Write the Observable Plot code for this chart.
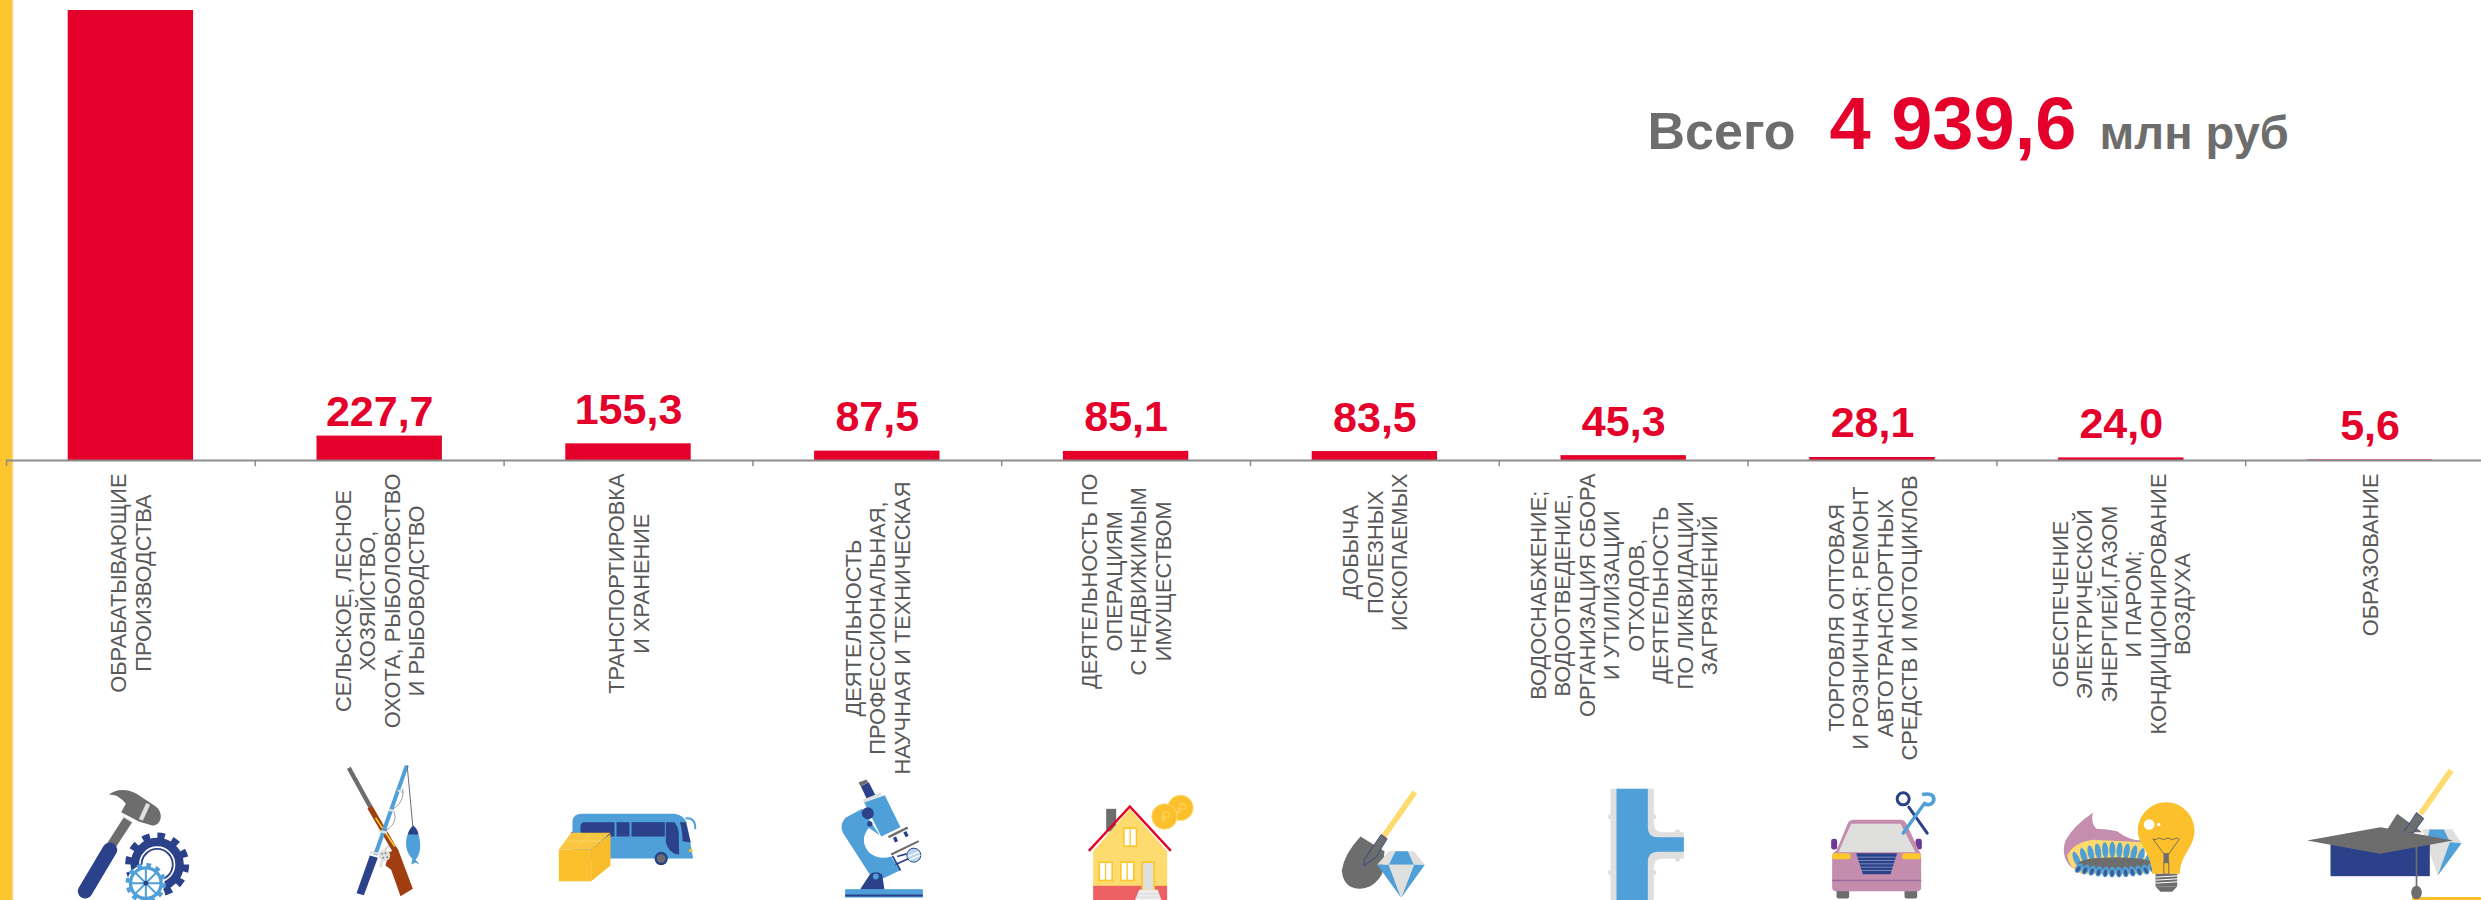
<!DOCTYPE html>
<html lang="ru">
<head>
<meta charset="utf-8">
<script src="https://cdn.jsdelivr.net/npm/d3@7"></script>
<script src="https://cdn.jsdelivr.net/npm/@observablehq/plot@0.6"></script>
<style>
html,body{margin:0;padding:0;background:#fff;overflow:hidden;width:2481px;height:900px}
#wrap{position:relative;width:2481px;height:900px;overflow:hidden}
#strip{position:absolute;left:0;top:0;width:14px;height:900px;background:linear-gradient(to right,#fdc62c 0,#fdc62c 11px,#f2d98a 12.5px,#fff 14px)}
#corner{position:absolute;left:2412px;top:897px;width:69px;height:3px;background:#fcc02c}
svg{display:block}
</style>
</head>
<body>
<div id="wrap"><div id="strip"></div><div id="corner"></div></div>
<script>
const categories = [
  "ОБРАБАТЫВАЮЩИЕ\nПРОИЗВОДСТВА",
  "СЕЛЬСКОЕ, ЛЕСНОЕ\nХОЗЯЙСТВО,\nОХОТА, РЫБОЛОВСТВО\nИ РЫБОВОДСТВО",
  "ТРАНСПОРТИРОВКА\nИ ХРАНЕНИЕ",
  "ДЕЯТЕЛЬНОСТЬ\nПРОФЕССИОНАЛЬНАЯ,\nНАУЧНАЯ И ТЕХНИЧЕСКАЯ",
  "ДЕЯТЕЛЬНОСТЬ ПО\nОПЕРАЦИЯМ\nС НЕДВИЖИМЫМ\nИМУЩЕСТВОМ",
  "ДОБЫЧА\nПОЛЕЗНЫХ\nИСКОПАЕМЫХ",
  "ВОДОСНАБЖЕНИЕ;\nВОДООТВЕДЕНИЕ,\nОРГАНИЗАЦИЯ СБОРА\nИ УТИЛИЗАЦИИ\nОТХОДОВ,\nДЕЯТЕЛЬНОСТЬ\nПО ЛИКВИДАЦИИ\nЗАГРЯЗНЕНИЙ",
  "ТОРГОВЛЯ ОПТОВАЯ\nИ РОЗНИЧНАЯ; РЕМОНТ\nАВТОТРАНСПОРТНЫХ\nСРЕДСТВ И МОТОЦИКЛОВ",
  "ОБЕСПЕЧЕНИЕ\nЭЛЕКТРИЧЕСКОЙ\nЭНЕРГИЕЙ,ГАЗОМ\nИ ПАРОМ;\nКОНДИЦИОНИРОВАНИЕ\nВОЗДУХА",
  "ОБРАЗОВАНИЕ"
];
const values = [4197.4, 227.7, 155.3, 87.5, 85.1, 83.5, 45.3, 28.1, 24.0, 5.6];
const totalValue = "4 939,6";
const totalPrefix = "Всего";
const totalUnit = "млн руб";

const FONT = "'Liberation Sans', Arial, sans-serif";
const RED = "#e4002b", GRAY = "#6d6d6d", LABEL = "#595959", AXIS = "#8c8c8c";
const NAVY = "#2b4189", BLUE = "#4f9fd8", YEL = "#fcc02c", PALE = "#fedb6e", LIGHT = "#dfdfdd";
const X0 = 6, STEP = 248.8, LABEL_SIZE = 21.8;

const rows = categories.map((name, i) => ({name, value: values[i], label: values[i].toFixed(1).replace(".", ",")}));

/* icons: drawn at 3x in their own tiles, one per band */
const gear = (cx, cy, r, sw, col) => {
  const circ = 2 * Math.PI * r, n = r > 50 ? 12 : 14;
  return `<circle cx="${cx}" cy="${cy}" r="${r}" fill="none" stroke="${col}" stroke-width="${sw}" stroke-dasharray="${circ / n / 2} ${circ / n / 2}"/>`;
};
const flames = () => {
  let s = "";
  d3.range(11).forEach(k => {
    const x = 48 + k * 21.5, a = (k - 5) / 5, y = 268 + a * a * 28;
    s += `<ellipse cx="${x}" cy="${y}" rx="9" ry="24" transform="rotate(${a * 22} ${x} ${y})" fill="${BLUE}"/>`;
  });
  s += `<ellipse cx="165" cy="310" rx="113" ry="20" fill="${GRAY}"/>`;
  d3.range(12).forEach(k => {
    const x = 55 + k * 20, a = (k - 5.5) / 5.5, y = 335 - a * a * 12;
    s += `<ellipse cx="${x}" cy="${y}" rx="10" ry="16" transform="rotate(${-a * 35} ${x} ${y})" fill="${BLUE}"/>`;
    s += `<ellipse cx="${x}" cy="${y + 3}" rx="5" ry="10" transform="rotate(${-a * 35} ${x} ${y})" fill="#3d5a95"/>`;
  });
  return s;
};
const iconBodies = [
  {left: 60, top: 760, body: `
    <polygon points="190,170 215,185 165,262 140,248" fill="${GRAY}"/>
    <line x1="148" y1="268" x2="74" y2="392" stroke="${NAVY}" stroke-width="44" stroke-linecap="round"/>
    <path d="M145,103 C165,83 205,85 228,100 L285,137 C310,155 305,195 275,195 L235,183 L182,155 L196,130 C182,110 162,100 145,103Z" fill="${GRAY}"/>
    <line x1="263" y1="130" x2="241" y2="178" stroke="${LIGHT}" stroke-width="13"/>
    <line x1="188" y1="168" x2="215" y2="184" stroke="${LIGHT}" stroke-width="4"/>
    ${gear(290, 312, 86, 20, NAVY)}
    <circle cx="290" cy="312" r="62" fill="none" stroke="${NAVY}" stroke-width="36"/>
    <circle cx="290" cy="312" r="52" fill="none" stroke="#fff" stroke-width="5"/>
    <circle cx="290" cy="312" r="30" fill="#fff"/>
    <circle cx="256" cy="368" r="56" fill="#fff"/>
    ${gear(256, 368, 55, 11, BLUE)}
    <circle cx="256" cy="368" r="46" fill="none" stroke="${BLUE}" stroke-width="10"/>
    <g stroke="${BLUE}" stroke-width="6"><line x1="256" y1="322" x2="256" y2="414"/><line x1="210" y1="368" x2="302" y2="368"/><line x1="224" y1="336" x2="288" y2="400"/><line x1="288" y1="336" x2="224" y2="400"/></g>
    <circle cx="256" cy="368" r="7" fill="${NAVY}"/>`},
  {left: 60, top: 760, body: `
    <line x1="865" y1="22" x2="930" y2="140" stroke="${GRAY}" stroke-width="13"/>
    <line x1="928" y1="140" x2="1005" y2="272" stroke="#a03e12" stroke-width="17"/>
    <line x1="945" y1="172" x2="1003" y2="258" stroke="#fcc62d" stroke-width="5"/>
    <polygon points="985,275 1012,265 1057,385 1020,407 992,328 975,315" fill="#a03e12"/>
    <polygon points="1033,14 1045,16 950,285 938,282" fill="${BLUE}"/>
    <polygon points="928,285 952,292 910,404 888,398" fill="${NAVY}"/>
    <g stroke="${LIGHT}" stroke-width="7"><line x1="1012" y1="90" x2="1030" y2="96"/><line x1="985" y1="148" x2="1003" y2="152"/><line x1="955" y1="212" x2="980" y2="216"/><line x1="928" y1="276" x2="962" y2="280"/></g>
    <path d="M1026,85 C1032,110 1018,135 997,145 M1001,155 C1011,180 992,205 972,210 M985,255 C975,265 968,275 970,285" fill="none" stroke="${GRAY}" stroke-width="2"/>
    <line x1="1040" y1="15" x2="1057" y2="198" stroke="${GRAY}" stroke-width="3"/>
    <circle cx="972" cy="285" r="17" fill="${LIGHT}"/>
    <g fill="${GRAY}"><circle cx="965" cy="280" r="2.5"/><circle cx="975" cy="278" r="2.5"/><circle cx="968" cy="292" r="2.5"/><circle cx="980" cy="290" r="2.5"/></g>
    <line x1="965" y1="298" x2="960" y2="320" stroke="${LIGHT}" stroke-width="7"/>
    <path d="M1058,195 C1085,225 1085,280 1065,298 L1078,312 L1065,306 L1052,312 L1056,295 C1030,270 1030,225 1058,195Z" fill="${BLUE}"/>
    <path d="M1058,195 C1068,203 1073,212 1074,222 L1042,222 C1044,212 1050,202 1058,195Z" fill="${NAVY}"/>`},
  {left: 550, top: 770, body: `
    <rect x="62" y="184" width="5" height="22" fill="${RED}"/>
    <path d="M66,152 Q68,130 95,130 L372,130 Q398,134 408,155 L428,264 L66,264Z" fill="${BLUE}"/>
    <path d="M405,144 Q436,140 434,176" fill="none" stroke="${BLUE}" stroke-width="6"/>
    <g fill="${NAVY}"><path d="M90,168 Q90,155 102,155 L192,155 V198 H90Z"/><rect x="198" y="155" width="39" height="43"/><rect x="243" y="155" width="100" height="43"/>
      <path d="M346,155 L372,155 Q388,175 385,205 L386,252 Q355,250 346,215Z"/><path d="M388,155 L406,155 L421,216 L396,212 Q396,180 388,155Z"/></g>
    <circle cx="332" cy="264" r="20" fill="${NAVY}"/><circle cx="332" cy="264" r="13" fill="${GRAY}"/>
    <ellipse cx="421" cy="240" rx="6" ry="5" fill="${YEL}"/>
    <polygon points="25,237 122,237 122,332 25,332" fill="${YEL}"/>
    <polygon points="122,237 180,190 180,285 122,332" fill="#f8bb2a"/>
    <polygon points="25,237 62,187 180,187 122,237" fill="#fbc63f"/>
    <g stroke="#fdd568" stroke-width="3"><line x1="48" y1="212" x2="152" y2="212"/><line x1="120" y1="188" x2="76" y2="236"/></g>`},
  {left: 550, top: 770, body: `
    <polygon points="931,47 955,35 975,75 950,88" fill="${NAVY}"/>
    <polygon points="924,36 948,27 953,36 930,47" fill="${GRAY}"/>
    <polygon points="937,88 990,66 994,74 941,96" fill="${LIGHT}"/>
    <polygon points="941,96 1003,74 1050,170 992,198" fill="${BLUE}"/>
    <line x1="1014" y1="200" x2="1072" y2="171" stroke="${GRAY}" stroke-width="7"/>
    <g stroke="${NAVY}" stroke-width="10"><line x1="1032" y1="200" x2="1038" y2="214"/><line x1="1063" y1="184" x2="1070" y2="198"/></g>
    <path d="M935,115 L885,142 Q865,165 878,188 L958,312 L985,330 L1048,300 L1022,258 Q985,270 955,245 Q925,210 955,172 L988,195 Z" fill="${BLUE}"/>
    <circle cx="952" cy="128" r="18" fill="${NAVY}"/><circle cx="958" cy="160" r="8" fill="${NAVY}"/>
    <path d="M928,358 L958,312 Q975,298 995,312 L1002,358Z" fill="${NAVY}"/>
    <circle cx="976" cy="318" r="9" fill="${BLUE}"/>
    <rect x="884" y="356" width="233" height="25" fill="${BLUE}"/><rect x="884" y="372" width="233" height="6" fill="${NAVY}"/>
    <line x1="1022" y1="252" x2="1105" y2="212" stroke="${GRAY}" stroke-width="6"/>
    <g stroke="${NAVY}" stroke-width="5"><line x1="1026" y1="256" x2="1050" y2="300"/><line x1="1035" y1="282" x2="1080" y2="262"/><line x1="1040" y1="258" x2="1068" y2="250"/></g>
    <circle cx="1090" cy="254" r="21" fill="#b8d6ee" stroke="${NAVY}" stroke-width="3"/>
    <g stroke="#fff" stroke-width="4"><line x1="1072" y1="258" x2="1106" y2="244"/><line x1="1076" y1="268" x2="1110" y2="254"/></g>`},
  {left: 1080, top: 780, body: `
    <rect x="77" y="85" width="30" height="68" fill="${GRAY}"/>
    <polygon points="38,212 148,85 260,212 260,320 38,320" fill="${PALE}"/>
    <polyline points="25,211 148,78 271,211" fill="none" stroke="${RED}" stroke-width="7"/>
    <rect x="38" y="316" width="222" height="44" fill="#ec5f62"/>
    <g fill="#fff" stroke="#fcc62d" stroke-width="5"><rect x="130" y="143" width="38" height="54"/><rect x="56" y="245" width="39" height="55"/><rect x="121" y="245" width="39" height="55"/></g>
    <g stroke="#fcc62d" stroke-width="4"><line x1="149" y1="143" x2="149" y2="197"/><line x1="75" y1="245" x2="75" y2="300"/><line x1="140" y1="245" x2="140" y2="300"/></g>
    <rect x="185" y="245" width="36" height="85" fill="${LIGHT}" stroke="#fcc62d" stroke-width="5"/>
    <polygon points="176,328 232,328 243,360 163,360" fill="#eee"/>
    <g stroke="#ccc" stroke-width="2"><line x1="172" y1="340" x2="236" y2="340"/><line x1="166" y1="350" x2="240" y2="350"/></g>
    <circle cx="300" cy="82" r="38" fill="${YEL}" stroke="#fdd869" stroke-width="3"/>
    <circle cx="252" cy="108" r="38" fill="${YEL}" stroke="#fdd869" stroke-width="3"/>
    <path d="M248,126 V94 h10 a8,8 0 0 1 0,16 h-16 M242,118 h14" fill="none" stroke="#fdd869" stroke-width="3"/>
    <path d="M292,100 L302,68 l9,4 a8,8 0 0 1 -5,15 l-15,-5 M287,92 l14,4" fill="none" stroke="#fdd869" stroke-width="3"/>`},
  {left: 1080, top: 780, body: `
    <line x1="1003" y1="35" x2="908" y2="170" stroke="${PALE}" stroke-width="17"/>
    <path d="M840,168 L912,212 L905,280 Q880,325 835,325 Q788,322 784,270 Q790,222 840,168Z" fill="${GRAY}"/>
    <polygon points="902,162 920,175 885,232 850,256 852,236" fill="${GRAY}" stroke="${NAVY}" stroke-width="2.5"/>
    <polygon points="925,212 1000,212 1033,253 890,253" fill="${LIGHT}"/>
    <polygon points="945,212 982,212 1000,253 925,253" fill="${BLUE}"/>
    <polygon points="890,253 925,253 962,352" fill="${BLUE}"/>
    <polygon points="1000,253 1033,253 962,352" fill="${BLUE}"/>
    <polygon points="925,253 1000,253 962,352" fill="${LIGHT}"/>`},
  {left: 1600, top: 780, body: `
    <path d="M30,25 H160 V130 Q160,155 185,155 H250 V235 H185 Q160,235 160,260 V360 H30Z" fill="${LIGHT}"/>
    <g fill="${LIGHT}"><rect x="23" y="102" width="10" height="14" rx="4"/><rect x="23" y="269" width="10" height="14" rx="4"/><rect x="157" y="102" width="10" height="14" rx="4"/><rect x="157" y="269" width="10" height="14" rx="4"/><rect x="224" y="147" width="14" height="10" rx="4"/><rect x="224" y="233" width="14" height="10" rx="4"/></g>
    <path d="M48,25 H142 V140 Q142,170 172,170 H250 V214 H172 Q142,214 142,245 V360 H48Z" fill="${BLUE}"/>`},
  {left: 1600, top: 780, body: `
    <rect x="708" y="325" width="38" height="29" rx="6" fill="${GRAY}"/><rect x="912" y="325" width="38" height="29" rx="6" fill="${GRAY}"/>
    <rect x="692" y="175" width="18" height="32" rx="7" fill="#6a3a97"/><rect x="945" y="175" width="19" height="32" rx="7" fill="#6a3a97"/>
    <path d="M695,232 Q695,216 708,210 L742,128 Q748,118 762,118 L900,118 Q912,118 918,130 L955,210 Q962,216 962,232 V320 Q962,332 948,332 H708 Q695,332 695,320Z" fill="#c48dae"/>
    <polygon points="752,130 900,130 945,215 714,215" fill="${LIGHT}"/>
    <polygon points="767,218 890,218 870,281 787,281" fill="${NAVY}"/>
    <g stroke="#9fb0d0" stroke-width="2"><line x1="770" y1="230" x2="887" y2="230"/><line x1="773" y1="240" x2="884" y2="240"/><line x1="776" y1="250" x2="881" y2="250"/><line x1="779" y1="260" x2="878" y2="260"/><line x1="782" y1="270" x2="875" y2="270"/></g>
    <rect x="695" y="218" width="55" height="18" rx="6" fill="#fcc62d"/><rect x="905" y="218" width="56" height="18" rx="6" fill="#fcc62d"/>
    <line x1="695" y1="300" x2="962" y2="300" stroke="#9a6ba0" stroke-width="5"/>
    <line x1="925" y1="80" x2="980" y2="158" stroke="${NAVY}" stroke-width="9" stroke-linecap="round"/>
    <circle cx="908" cy="55" r="18" fill="none" stroke="${NAVY}" stroke-width="9"/>
    <line x1="908" y1="158" x2="972" y2="68" stroke="${BLUE}" stroke-width="10" stroke-linecap="round"/>
    <path d="M965,42 Q1000,35 1000,58 Q995,78 970,70" fill="none" stroke="${BLUE}" stroke-width="11"/>`},
  {left: 2060, top: 760, body: `
    <path d="M97,157 Q40,195 15,240 Q0,285 30,318 L60,338 L250,300 L245,240 Q205,240 170,212 Q125,205 108,205 Q90,190 97,157Z" fill="#c58eaf"/>
    <path d="M20,285 Q40,245 100,238 L245,245 L265,340 L60,340 Q25,322 20,285Z" fill="${PALE}"/>
    ${flames()}
    <path d="M317,125 C270,125 232,165 232,210 C232,255 272,272 275,340 L358,340 C360,280 402,262 402,210 C402,165 365,125 317,125Z" fill="${YEL}"/>
    <circle cx="266" cy="192" r="16" fill="#fff"/><circle cx="295" cy="192" r="5" fill="#fff"/>
    <g fill="none" stroke="#5f5f5f" stroke-width="2.5"><path d="M277,235 q7,5 13,0 t13,0 t13,0 t13,0 t13,0 t13,0"/><polyline points="277,235 310,280 325,280 357,235"/><rect x="310" y="305" width="15" height="36"/></g>
    <rect x="309" y="278" width="16" height="30" fill="${GRAY}"/>
    <rect x="285" y="340" width="65" height="38" fill="${GRAY}"/>
    <g stroke="#fff" stroke-width="3"><line x1="285" y1="350" x2="350" y2="346"/><line x1="285" y1="359" x2="350" y2="355"/><line x1="285" y1="368" x2="350" y2="364"/></g>
    <polygon points="285,378 350,378 335,394 300,394" fill="${GRAY}"/>`},
  {left: 2060, top: 760, body: `
    <line x1="1172" y1="30" x2="1080" y2="160" stroke="${PALE}" stroke-width="17"/>
    <polygon points="1010,160 1085,215 975,215" fill="${GRAY}"/>
    <polygon points="1068,156 1090,174 1058,218 1030,215" fill="${GRAY}" stroke="${NAVY}" stroke-width="2.5"/>
    <polygon points="1085,206 1175,206 1203,248 1132,345 1105,270" fill="${LIGHT}"/>
    <polygon points="1107,207 1150,207 1166,240 1100,240" fill="${BLUE}"/>
    <polygon points="1168,245 1203,248 1132,345" fill="${BLUE}"/>
    <rect x="810" y="245" width="298" height="102" fill="${NAVY}"/>
    <polygon points="740,240 960,200 1178,240 958,280" fill="${GRAY}"/>
    <line x1="1068" y1="258" x2="1068" y2="382" stroke="${GRAY}" stroke-width="5"/>
    <ellipse cx="1068" cy="396" rx="16" ry="20" fill="${GRAY}"/>`}
];
const iconSrc = iconBodies.map((ic, i) => {
  const tileLeft = X0 + STEP * i;
  const tx = 3 * (ic.left - tileLeft), ty = 3 * (ic.top - 760);
  const svg = `<svg xmlns="http://www.w3.org/2000/svg" viewBox="0 0 ${STEP * 3} 420"><g transform="translate(${tx} ${ty})">${ic.body}</g></svg>`;
  return "data:image/svg+xml," + encodeURIComponent(svg);
});

const ctx = document.createElement("canvas").getContext("2d");
ctx.font = `${LABEL_SIZE}px 'Liberation Sans'`;
const longest = s => d3.max(s.split("\n"), l => ctx.measureText(l).width);
const labelGap = name => name.startsWith("ДЕЯТЕЛЬНОСТЬ\n") ? 21 : name.startsWith("ТОРГОВЛЯ") ? 15 : 13;

const shown = rows.slice(1);
const chart = Plot.plot({
  width: 2481, height: 900,
  marginLeft: X0, marginRight: 0, marginTop: 0, marginBottom: 0,
  style: {background: "transparent", fontFamily: FONT},
  x: {type: "band", domain: categories, range: [X0, X0 + STEP * categories.length], round: false, paddingInner: 0.496, paddingOuter: 0.248, axis: null},
  y: {domain: [0, d3.max(values)], range: [460, 10], axis: null},
  marks: [
    Plot.barY(rows, {x: "name", y: "value", fill: RED}),
    Plot.ruleY([0], {stroke: AXIS, strokeWidth: 2}),
    Plot.ruleX(categories, {x: d => d, y1: 0, y2: -58, dx: -STEP / 2, stroke: AXIS, strokeWidth: 1.5}),
    Plot.text(shown.filter(d => d.value > 200), {x: "name", y: "value", text: "label", fill: RED, fontSize: 43, fontWeight: "bold", lineAnchor: "bottom", dy: -10}),
    Plot.text(shown.filter(d => d.value <= 200), {x: "name", y: "value", text: "label", fill: RED, fontSize: 43, fontWeight: "bold", lineAnchor: "bottom", dy: -20}),
    ...categories.map(c => Plot.text([c], {
      x: d => d, y: () => 0, text: d => d, rotate: -90, textAnchor: "middle", lineAnchor: "middle",
      fontSize: LABEL_SIZE, lineHeight: 24.5 / LABEL_SIZE, fill: LABEL,
      dy: labelGap(c) + longest(c) / 2
    })),
    Plot.image(categories, {x: d => d, y: () => 0, src: (d, i) => iconSrc[i], width: STEP, height: 140, dy: 370}),
    Plot.text([totalPrefix], {frameAnchor: "top-left", dx: 1641, dy: 148, text: d => d, textAnchor: "start", lineAnchor: "bottom", fontSize: 52, fontWeight: "bold", fill: GRAY}),
    Plot.text([totalValue], {frameAnchor: "top-left", dx: 1823, dy: 148, text: d => d, textAnchor: "start", lineAnchor: "bottom", fontSize: 74, fontWeight: "bold", fill: RED}),
    Plot.text([totalUnit], {frameAnchor: "top-left", dx: 2093, dy: 148, text: d => d, textAnchor: "start", lineAnchor: "bottom", fontSize: 47, fontWeight: "bold", fill: GRAY})
  ]
});
document.getElementById("wrap").appendChild(chart);
chart.style.position = "absolute"; chart.style.left = "0"; chart.style.top = "0";
</script>
</body>
</html>
